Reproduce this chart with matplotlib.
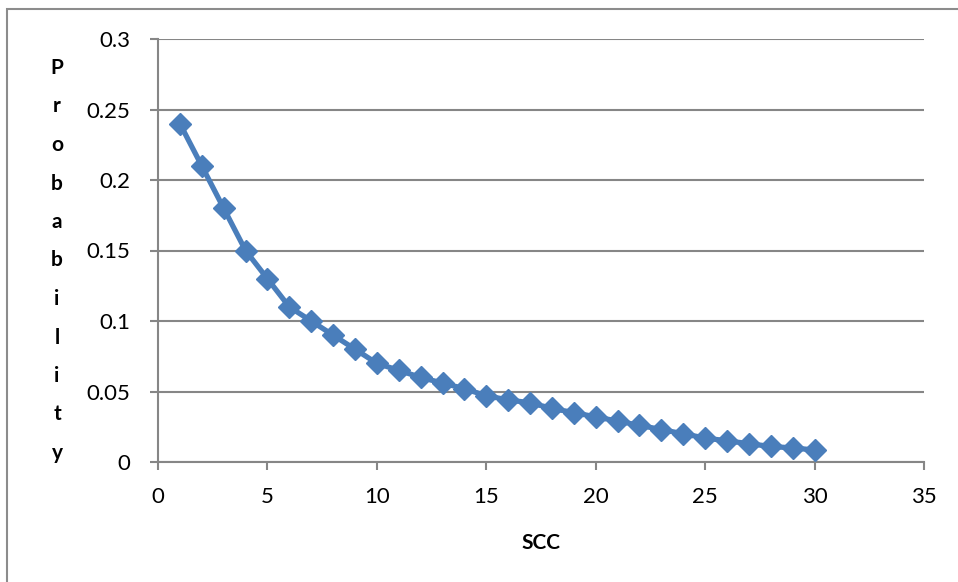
import numpy as np
import matplotlib.pyplot as plt
from matplotlib.patches import Rectangle

# datos
scc = list(range(1, 31))
prob = [0.24, 0.21, 0.18, 0.15, 0.13, 0.11, 0.10, 0.09, 0.08, 0.07,
        0.065, 0.06, 0.056, 0.052, 0.047, 0.044, 0.042, 0.038, 0.035, 0.032,
        0.029, 0.026, 0.023, 0.020, 0.017, 0.015, 0.013, 0.011, 0.010, 0.0085]
xticks = [0, 5, 10, 15, 20, 25, 30, 35]
yticks = [0, 0.05, 0.1, 0.15, 0.2, 0.25, 0.3]
ylabels = ['0', '0.05', '0.1', '0.15', '0.2', '0.25', '0.3']
ylab_letters = list('Probability')

plt.rcParams['font.family'] = ['Lato', 'DejaVu Sans']
W, H = 958, 582
fig = plt.figure(figsize=(W / 100, H / 100), dpi=100)

# marco exterior
fig.patches.append(Rectangle((7 / W, -0.1), 1.2, 1 - 9 / H + 0.1, transform=fig.transFigure,
                             fill=False, edgecolor='#8c8c8c', linewidth=1.5))

ax = fig.add_axes([158 / W, (H - 462) / H, (924 - 158) / W, (462 - 39) / H])
ax.plot(scc, prob, color='#4a7ebb', linewidth=3.8, marker='D', markersize=11.5,
        zorder=3, clip_on=False)

ax.set_xlim(0, 35)
ax.set_ylim(0, 0.3)
ax.set_xticks(xticks)
ax.set_yticks(yticks)
ax.set_yticklabels(ylabels)
ax.grid(axis='y', color='#868686', linewidth=1.5)
ax.set_axisbelow(True)
for s in ['top', 'right']:
    ax.spines[s].set_visible(False)
for s in ['left', 'bottom']:
    ax.spines[s].set_color('#868686')
    ax.spines[s].set_linewidth(1.5)
ax.tick_params(axis='both', colors='#868686', labelcolor='black', labelsize=16,
               width=1.5, length=6)
ax.tick_params(axis='x', direction='out', pad=12)
ax.tick_params(axis='y', direction='out', pad=14)

ax.set_xlabel('SCC', fontsize=15, fontweight='bold', labelpad=19)

# etiqueta vertical letra por letra
ys = np.linspace(68, 453, len(ylab_letters))
for letra, yy in zip(ylab_letters, ys):
    fig.text(57 / W, 1 - yy / H, letra, fontsize=15, fontweight='bold',
             ha='center', va='center')

plt.savefig('out.png', dpi=100)
